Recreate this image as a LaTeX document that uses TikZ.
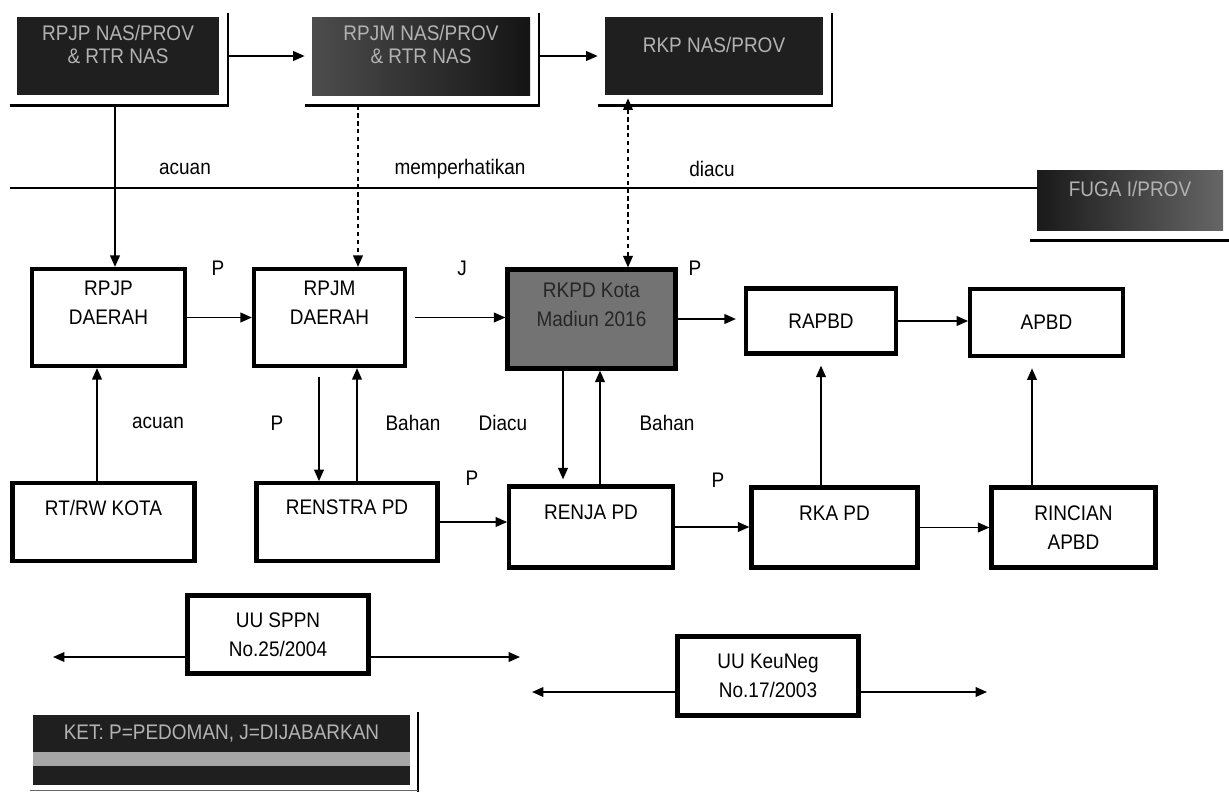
\documentclass[tikz,border=0pt]{standalone}
\usepackage{fontspec}
\setmainfont{Liberation Sans}[FakeStretch=0.9]
\usetikzlibrary{arrows.meta,calc}

\begin{document}
\begin{tikzpicture}[font=\fontsize{12}{16.5}\selectfont,>={Triangle[length=6.5pt,width=5.5pt]},
  pbox/.style={draw,line width=2.4pt,fill=white,align=center,inner sep=2pt},
  nasbox/.style={fill=black!88,text=black!30,align=center,minimum height=1.56cm,inner sep=2pt,
    font=\fontsize{12}{13}\selectfont},
  conn/.style={->,line width=0.9pt},
  lbl/.style={inner sep=1pt}]
\useasboundingbox (0,0) rectangle (24.58,-15.84);
% national level
\node[nasbox,minimum width=4.04cm] (nasA) at (2.36,-1.12) {RPJP NAS/PROV\\\& RTR NAS\\~};
\node[nasbox,minimum width=4.36cm,left color=black!70,right color=black!92] (nasB) at (8.42,-1.12) {RPJM NAS/PROV\\\& RTR NAS\\~};
\node[nasbox,minimum width=4.36cm] (nasC) at (14.28,-1.12) {RKP NAS/PROV\\~};
\node[nasbox,minimum width=3.72cm,minimum height=1.2cm,left color=black!90,right color=black!60] (fuga) at (22.6,-4.0) {FUGA I/PROV\\~};
\foreach \n in {nasA,nasB,nasC} {
  \draw[line width=2pt] ([shift={(-0.14,-0.2)}]\n.south west) -- ([shift={(0.18,-0.2)}]\n.south east);
  \draw[line width=1pt] ([shift={(0.18,0.08)}]\n.north east) -- ([shift={(0.18,-0.24)}]\n.south east);
}
\draw[line width=2pt] ([shift={(-0.14,-0.2)}]fuga.south west) -- ([shift={(0.14,-0.2)}]fuga.south east);
\draw[conn,shorten <=0.18cm,shorten >=0.14cm] (nasA.east) -- (nasB.west);
\draw[conn,shorten <=0.18cm,shorten >=0.14cm] (nasB.east) -- (nasC.west);
\coordinate (refL) at (0.2,-3.76);
\draw[line width=0.7pt] (refL) -- (refL -| fuga.west);
\node[lbl] (tAcuan) at (3.7,-3.38) {acuan};
\node[lbl] (tPerhati) at (9.2,-3.38) {memperhatikan};
\node[lbl] (tDiacu) at (14.24,-3.38) {diacu};
% daerah level
\node[pbox,minimum width=3.06cm,minimum height=1.94cm] (rpjp) at (2.17,-6.35) {RPJP\\DAERAH\\~};
\node[pbox,minimum width=3.02cm,minimum height=1.94cm] (rpjm) at (6.59,-6.35) {RPJM\\DAERAH\\~};
\node[pbox,minimum width=3.36cm,minimum height=1.98cm,fill=black!55,text=black!85] (rkpd) at (11.83,-6.38) {RKPD Kota\\Madiun 2016\\~};
\node[pbox,minimum width=3.0cm,minimum height=1.3cm] (rapbd) at (16.42,-6.42) {RAPBD};
\node[pbox,minimum width=3.05cm,minimum height=1.35cm] (apbd) at (20.93,-6.45) {APBD};
\node[pbox,minimum width=3.64cm,minimum height=1.55cm] (rtrw) at (2.07,-10.44) {RT/RW KOTA\\~};
\node[pbox,minimum width=3.62cm,minimum height=1.55cm] (renstra) at (6.94,-10.44) {RENSTRA PD\\~};
\node[pbox,minimum width=3.27cm,minimum height=1.62cm] (renja) at (11.82,-10.54) {RENJA PD\\~};
\node[pbox,minimum width=3.32cm,minimum height=1.6cm] (rka) at (16.69,-10.55) {RKA PD\\~};
\node[pbox,minimum width=3.28cm,minimum height=1.6cm] (rincian) at (21.47,-10.55) {RINCIAN\\APBD};
% references from national level
\draw[conn,shorten <=0.2cm] ([xshift=-0.06cm]nasA.south) -- ([xshift=-0.06cm]nasA.south |- rpjp.north);
\draw[conn,dashed,dash pattern=on 2.5pt off 2pt,shorten <=0.2cm] ([xshift=-1.26cm]nasB.south) -- ([xshift=-1.26cm]nasB.south |- rpjm.north);
\draw[conn,<->,dashed,dash pattern=on 2.5pt off 2pt,shorten <=0.06cm] ([xshift=-1.72cm]nasC.south) -- ([xshift=-1.72cm]nasC.south |- rkpd.north);
% main chain
\draw[conn] (rpjp.east) -- (rpjp.east -| rpjm.west);
\draw[conn,shorten <=0.16cm] (rpjm.east) -- (rpjm.east -| rkpd.west);
\draw[conn,shorten >=0.16cm] (rkpd.east) -- (rkpd.east -| rapbd.west);
\draw[conn] (rapbd.east) -- (rapbd.east -| apbd.west);
\draw[conn] ([xshift=-0.13cm]rtrw.north) -- ([xshift=-0.13cm]rtrw.north |- rpjp.south);
\draw[conn,shorten <=0.18cm] ([xshift=-0.21cm]rpjm.south) -- ([xshift=-0.21cm]rpjm.south |- renstra.north);
\draw[conn] ([xshift=0.55cm]rpjm.south |- renstra.north) -- ([xshift=0.55cm]rpjm.south);
\draw[conn,shorten >=0.1cm] ([xshift=-0.57cm]rkpd.south) -- ([xshift=-0.57cm]rkpd.south |- renja.north);
\draw[conn] ([xshift=0.17cm]rkpd.south |- renja.north) -- ([xshift=0.17cm]rkpd.south);
\draw[conn] (renstra.east) -- (renstra.east -| renja.west);
\draw[conn] (renja.east) -- (renja.east -| rka.west);
\draw[conn] (rka.east) -- (rka.east -| rincian.west);
\draw[conn,shorten >=0.2cm] (rka.north -| rapbd.south) -- (rapbd.south);
\draw[conn,shorten >=0.2cm] ([xshift=-0.29cm]apbd.south |- rincian.north) -- ([xshift=-0.29cm]apbd.south);
% labels
\node[lbl] (pA) at (4.36,-5.36) {P};
\node[lbl] (jA) at (9.24,-5.36) {J};
\node[lbl] (pB) at (13.9,-5.36) {P};
\node[lbl] (tAcuan2) at (3.16,-8.46) {acuan};
\node[lbl] (pC) at (5.54,-8.46) {P};
\node[lbl] (tBahan) at (8.26,-8.46) {Bahan};
\node[lbl] (tDiacu2) at (10.06,-8.46) {Diacu};
\node[lbl] (tBahan2) at (13.34,-8.46) {Bahan};
\node[lbl] (pD) at (9.44,-9.56) {P};
\node[lbl] (pE) at (14.36,-9.6) {P};
% laws
\node[pbox,minimum width=3.62cm,minimum height=1.56cm] (sppn) at (5.56,-12.69) {UU SPPN\\No.25/2004};
\node[pbox,minimum width=3.62cm,minimum height=1.58cm] (keu) at (15.36,-13.52) {UU KeuNeg\\No.17/2003};
\coordinate (sppnL) at (1.06,-13.14);
\coordinate (sppnR) at (10.4,-13.14);
\coordinate (keuL) at (10.64,-13.84);
\coordinate (keuR) at (19.74,-13.84);
\draw[conn] (sppn.west |- sppnL) -- (sppnL);
\draw[conn] (sppn.east |- sppnR) -- (sppnR);
\draw[conn] (keu.west |- keuL) -- (keuL);
\draw[conn] (keu.east |- keuR) -- (keuR);
% legend
\node[fill=black!88,text=black!30,minimum width=7.54cm,minimum height=0.74cm,inner sep=2pt] (ket) at (4.43,-14.67) {KET: P=PEDOMAN, J=DIJABARKAN};
\fill[black!35] (ket.south west) rectangle ([yshift=-0.28cm]ket.south east);
\fill[black!88] ([yshift=-0.28cm]ket.south west) rectangle ([yshift=-0.66cm]ket.south east);
\draw[line width=1pt] ([shift={(0.16,0.06)}]ket.north east) -- ([shift={(0.16,-0.84)}]ket.south east);
\draw[black!60,line width=0.6pt] ([shift={(-0.06,-0.76)}]ket.south west) -- ([shift={(0.16,-0.76)}]ket.south east);
\end{tikzpicture}
\end{document}
